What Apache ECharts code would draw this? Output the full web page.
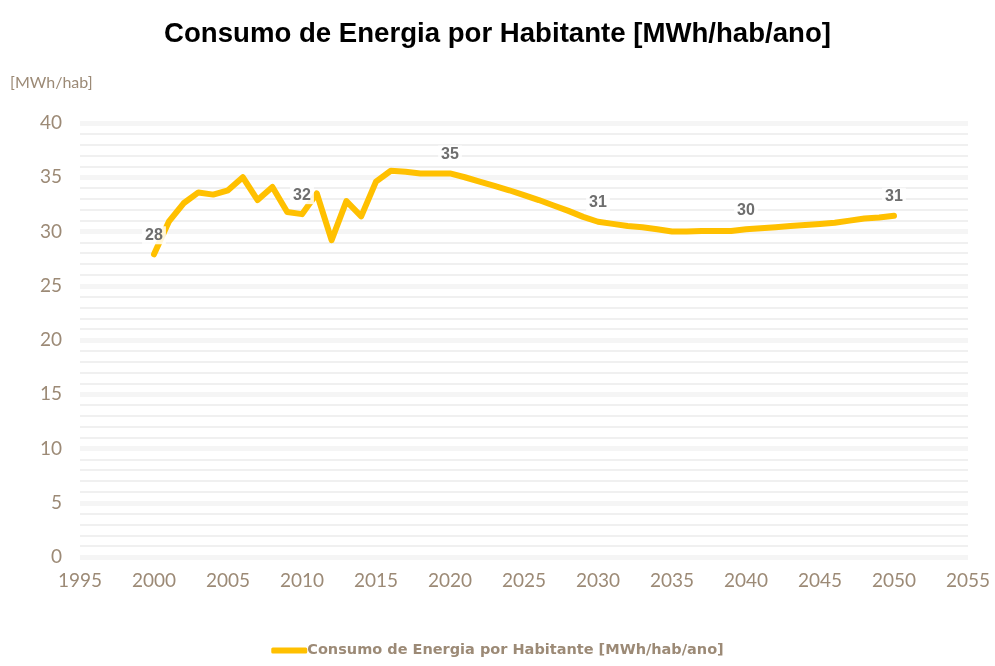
<!DOCTYPE html>
<html>
<head>
<meta charset="utf-8">
<script src="https://cdn.jsdelivr.net/npm/echarts@6/dist/echarts.min.js"></script>
<style>
  html, body { margin: 0; padding: 0; background: #fff; }
  #main { width: 995px; height: 666px; }
</style>
</head>
<body>
<div id="main"></div>
<script>
// anos e consumo por habitante (MWh/hab/ano)
const years = [
  2000, 2001, 2002, 2003, 2004, 2005, 2006, 2007, 2008, 2009,
  2010, 2011, 2012, 2013, 2014, 2015, 2016, 2017, 2018, 2019,
  2020, 2021, 2022, 2023, 2024, 2025, 2026, 2027, 2028, 2029,
  2030, 2031, 2032, 2033, 2034, 2035, 2036, 2037, 2038, 2039,
  2040, 2041, 2042, 2043, 2044, 2045, 2046, 2047, 2048, 2049, 2050
]
const consumo = [
  27.9, 30.9, 32.6, 33.6, 33.4, 33.8, 35.0, 32.9, 34.1, 31.8,
  31.6, 33.5, 29.2, 32.8, 31.4, 34.6, 35.6, 35.5, 35.35, 35.35,
  35.35, 35.0, 34.6, 34.2, 33.8, 33.35, 32.9, 32.4, 31.9, 31.35,
  30.9, 30.7, 30.5, 30.4, 30.2, 30.0, 30.0, 30.05, 30.05, 30.05,
  30.2, 30.3, 30.4, 30.5, 30.6, 30.7, 30.8, 31.0, 31.2, 31.3, 31.45
]
// anos com rótulo de valor
const labelYears = [2000, 2010, 2020, 2030, 2040, 2050]

const seriesName = 'Consumo de Energia por Habitante [MWh/hab/ano]'
const axisColor = '#9c8a76'
const axisFont = 'Lato, "DejaVu Sans", sans-serif'

const chart = echarts.init(document.getElementById('main'))

const option = {
  animation: false,
  title: {
    text: 'Consumo de Energia por Habitante [MWh/hab/ano]',
    left: 'center',
    top: 15,
    textStyle: {
      fontFamily: '"Liberation Sans", Arial, sans-serif',
      fontSize: 27.6,
      fontWeight: 'bold',
      color: '#000'
    }
  },
  grid: { left: 80, right: 27, top: 123, bottom: 109 },
  legend: {
    bottom: 3,
    left: 'center',
    itemWidth: 36,
    itemHeight: 6,
    itemGap: 0,
    icon: 'roundRect',
    textStyle: {
      fontFamily: '"DejaVu Sans", sans-serif',
      fontSize: 14.5,
      fontWeight: 'bold',
      color: axisColor,
      padding: [0, 0, 0, -5]
    },
    data: [seriesName]
  },
  xAxis: {
    type: 'value',
    min: 1995,
    max: 2055,
    interval: 5,
    axisLine: { show: false },
    axisTick: { show: false },
    splitLine: { show: false },
    axisLabel: {
      fontFamily: axisFont,
      fontSize: 19,
      color: axisColor,
      margin: 14,
      formatter: v => String(v)
    }
  },
  yAxis: {
    type: 'value',
    min: 0,
    max: 40,
    interval: 5,
    name: '[MWh/hab]',
    nameLocation: 'end',
    nameGap: 0,
    nameTextStyle: {
      fontFamily: axisFont,
      fontSize: 16,
      color: axisColor,
      align: 'left',
      padding: [0, 0, 32, -70]
    },
    axisLine: { show: false },
    axisTick: { show: false },
    axisLabel: {
      fontFamily: axisFont,
      fontSize: 19,
      color: axisColor,
      margin: 18
    },
    splitLine: { lineStyle: { color: '#f5f5f5', width: 5 } },
    minorTick: { show: false, splitNumber: 5 },
    minorSplitLine: { show: true, lineStyle: { color: '#ececec', width: 1.5 } }
  },
  series: [
    {
      name: seriesName,
      type: 'line',
      data: years.map((y, i) => [y, consumo[i]]),
      showSymbol: false,
      symbol: 'none',
      lineStyle: { color: '#ffc000', width: 6, cap: 'round', join: 'round' },
      itemStyle: { color: '#ffc000' },
      label: { show: false },
      markPoint: {
        symbol: 'circle',
        symbolSize: 0,
        label: {
          show: true,
          position: 'top',
          distance: 10,
          fontFamily: '"Liberation Sans", Arial, sans-serif',
          fontSize: 16,
          fontWeight: 'bold',
          color: '#6e6e6e',
          backgroundColor: 'rgba(255,255,255,0.85)',
          padding: [1, 3],
          formatter: p => Math.round(p.value)
        },
        data: labelYears.map(y => {
          const v = consumo[years.indexOf(y)]
          return { coord: [y, v], value: v }
        })
      }
    }
  ]
}

option && chart.setOption(option)
</script>
</body>
</html>
